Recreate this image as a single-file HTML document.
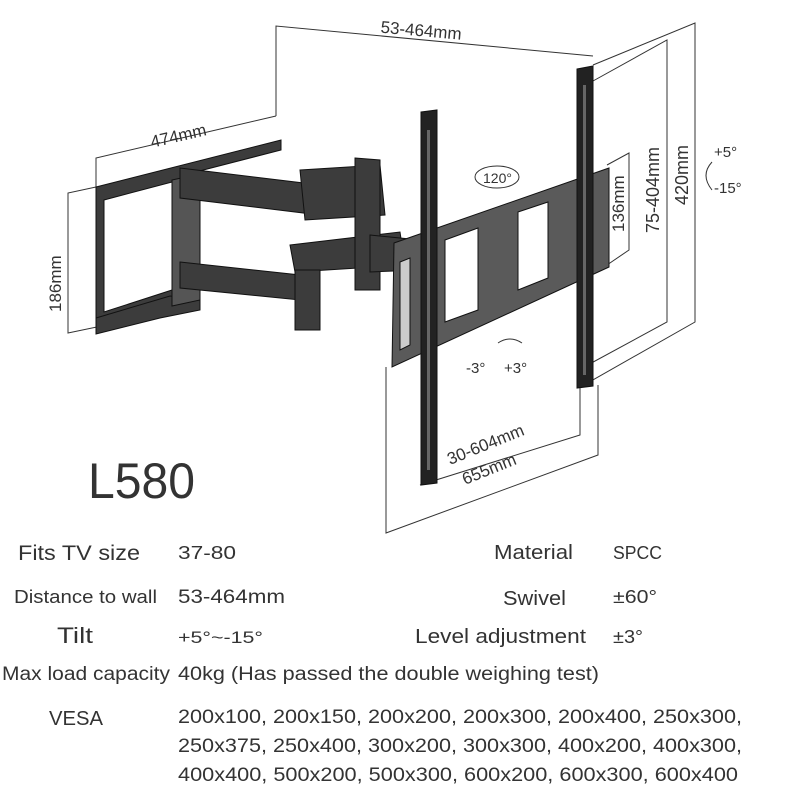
<!DOCTYPE html>
<html><head><meta charset="utf-8"><style>
html,body{margin:0;padding:0;background:#fff;}
svg{display:block;}
text{font-family:"Liberation Sans","DejaVu Sans",sans-serif;fill:#333;}
</style></head><body>
<svg width="800" height="800" viewBox="0 0 800 800" xmlns="http://www.w3.org/2000/svg">
<g stroke="#333" stroke-width="1" fill="none">
<polyline points="276,116 276,26 593,56"/>
<polyline points="96,187 96,158 276,116"/>
<polyline points="96,187 68,193 68,333 164,313"/>
<polyline points="593,65 695,23 695,322 584,385"/>
<polyline points="593,81 667,40 667,322 584,367"/>
<polyline points="607,165 629,153 629,250 607,265"/>
<polyline points="386,367 386,533 598,455 598,385"/>
<polyline points="420,485 580,435 580,385"/>
<path d="M712,162 Q700,175 712,190"/>
<path d="M498,343 Q510,335 522,343"/>
<ellipse cx="497" cy="177" rx="22" ry="11"/>
</g>
<g fill="#3c3c3c" stroke="#111">
<polygon points="96,187 281,140 281,150 180,176 180,298 96,325"/>
<polygon points="104,200 172,182 172,290 104,312" fill="#fff"/>
<polygon points="96,318 170,296 200,300 200,310 160,318 96,334"/>
<polygon points="172,180 200,174 200,300 172,306" fill="#555"/>
<polygon points="180,168 320,185 320,215 180,198"/>
<polygon points="180,262 300,275 300,300 180,288"/>
<polygon points="300,170 380,165 385,215 305,220"/>
<polygon points="290,245 400,232 405,265 295,272"/>
<polygon points="355,158 380,160 380,290 355,290"/>
<polygon points="295,270 320,270 320,330 295,330"/>
<polygon points="370,235 420,240 420,270 370,272"/>
<polygon points="394,243 609,168 609,267 392,367" fill="#5a5a5a"/>
<polygon points="445,240 478,228 478,310 445,322" fill="#fff"/>
<polygon points="518,212 548,202 548,278 518,290" fill="#fff"/>
<polygon points="400,262 410,258 410,345 400,350" fill="#ccc"/>
<polygon points="421,112 437,110 437,483 421,485" fill="#222"/>
<polygon points="577,69 593,66 593,386 577,388" fill="#222"/>
</g>
<g fill="#666">
<rect x="427" y="130" width="3" height="340"/>
<rect x="583" y="85" width="3" height="290"/>
</g>
<text x="380" y="37" font-size="17" transform="rotate(5 430 37)">53-464mm</text>
<text x="150" y="140" font-size="17" transform="rotate(-13 185 135)">474mm</text>
<text x="0" y="0" font-size="17" transform="translate(61,312) rotate(-90)">186mm</text>
<text x="0" y="0" font-size="17" transform="translate(624,232) rotate(-90)">136mm</text>
<text x="0" y="0" font-size="18" transform="translate(659,233) rotate(-90)">75-404mm</text>
<text x="0" y="0" font-size="18" transform="translate(688,205) rotate(-90)">420mm</text>
<text x="450" y="465" font-size="17" transform="rotate(-22 450 465)">30-604mm</text>
<text x="465" y="485" font-size="17" transform="rotate(-22 465 485)">655mm</text>
<text x="483" y="183" font-size="14">120°</text>
<text x="714" y="157" font-size="15">+5°</text>
<text x="714" y="193" font-size="15">-15°</text>
<text x="466" y="373" font-size="15">-3°</text>
<text x="504" y="373" font-size="15">+3°</text>
<text x="88" y="498" font-size="50" fill="#444" textLength="107" lengthAdjust="spacingAndGlyphs">L580</text>
<g font-size="21">
<text x="18" y="560" textLength="122" lengthAdjust="spacingAndGlyphs">Fits TV size</text>
<text x="178" y="559" font-size="18" textLength="58" lengthAdjust="spacingAndGlyphs">37-80</text>
<text x="494" y="559" font-size="20" textLength="79" lengthAdjust="spacingAndGlyphs">Material</text>
<text x="613" y="559" font-size="18" textLength="49" lengthAdjust="spacingAndGlyphs">SPCC</text>
<text x="14" y="603" font-size="18" textLength="143" lengthAdjust="spacingAndGlyphs">Distance to wall</text>
<text x="178" y="603" font-size="19" textLength="107" lengthAdjust="spacingAndGlyphs">53-464mm</text>
<text x="503" y="605" font-size="20" textLength="63" lengthAdjust="spacingAndGlyphs">Swivel</text>
<text x="613" y="603" font-size="18" textLength="44" lengthAdjust="spacingAndGlyphs">±60°</text>
<text x="57" y="643" font-size="22" textLength="36" lengthAdjust="spacingAndGlyphs">Tilt</text>
<text x="178" y="643" font-size="17" textLength="85" lengthAdjust="spacingAndGlyphs">+5°~-15°</text>
<text x="415" y="643" font-size="20" textLength="171" lengthAdjust="spacingAndGlyphs">Level adjustment</text>
<text x="613" y="643" font-size="18" textLength="30" lengthAdjust="spacingAndGlyphs">±3°</text>
<text x="2" y="680" font-size="19" textLength="168" lengthAdjust="spacingAndGlyphs">Max load capacity</text>
<text x="178" y="680" font-size="19" textLength="421" lengthAdjust="spacingAndGlyphs">40kg (Has passed the double weighing test)</text>
<text x="49" y="725" font-size="20" textLength="54" lengthAdjust="spacingAndGlyphs">VESA</text>
<text x="178" y="723" font-size="19" textLength="564" lengthAdjust="spacingAndGlyphs">200x100, 200x150, 200x200, 200x300, 200x400, 250x300,</text>
<text x="178" y="752" font-size="19" textLength="564" lengthAdjust="spacingAndGlyphs">250x375, 250x400, 300x200, 300x300, 400x200, 400x300,</text>
<text x="178" y="781" font-size="19" textLength="560" lengthAdjust="spacingAndGlyphs">400x400, 500x200, 500x300, 600x200, 600x300, 600x400</text>
</g>
</svg>
</body></html>
